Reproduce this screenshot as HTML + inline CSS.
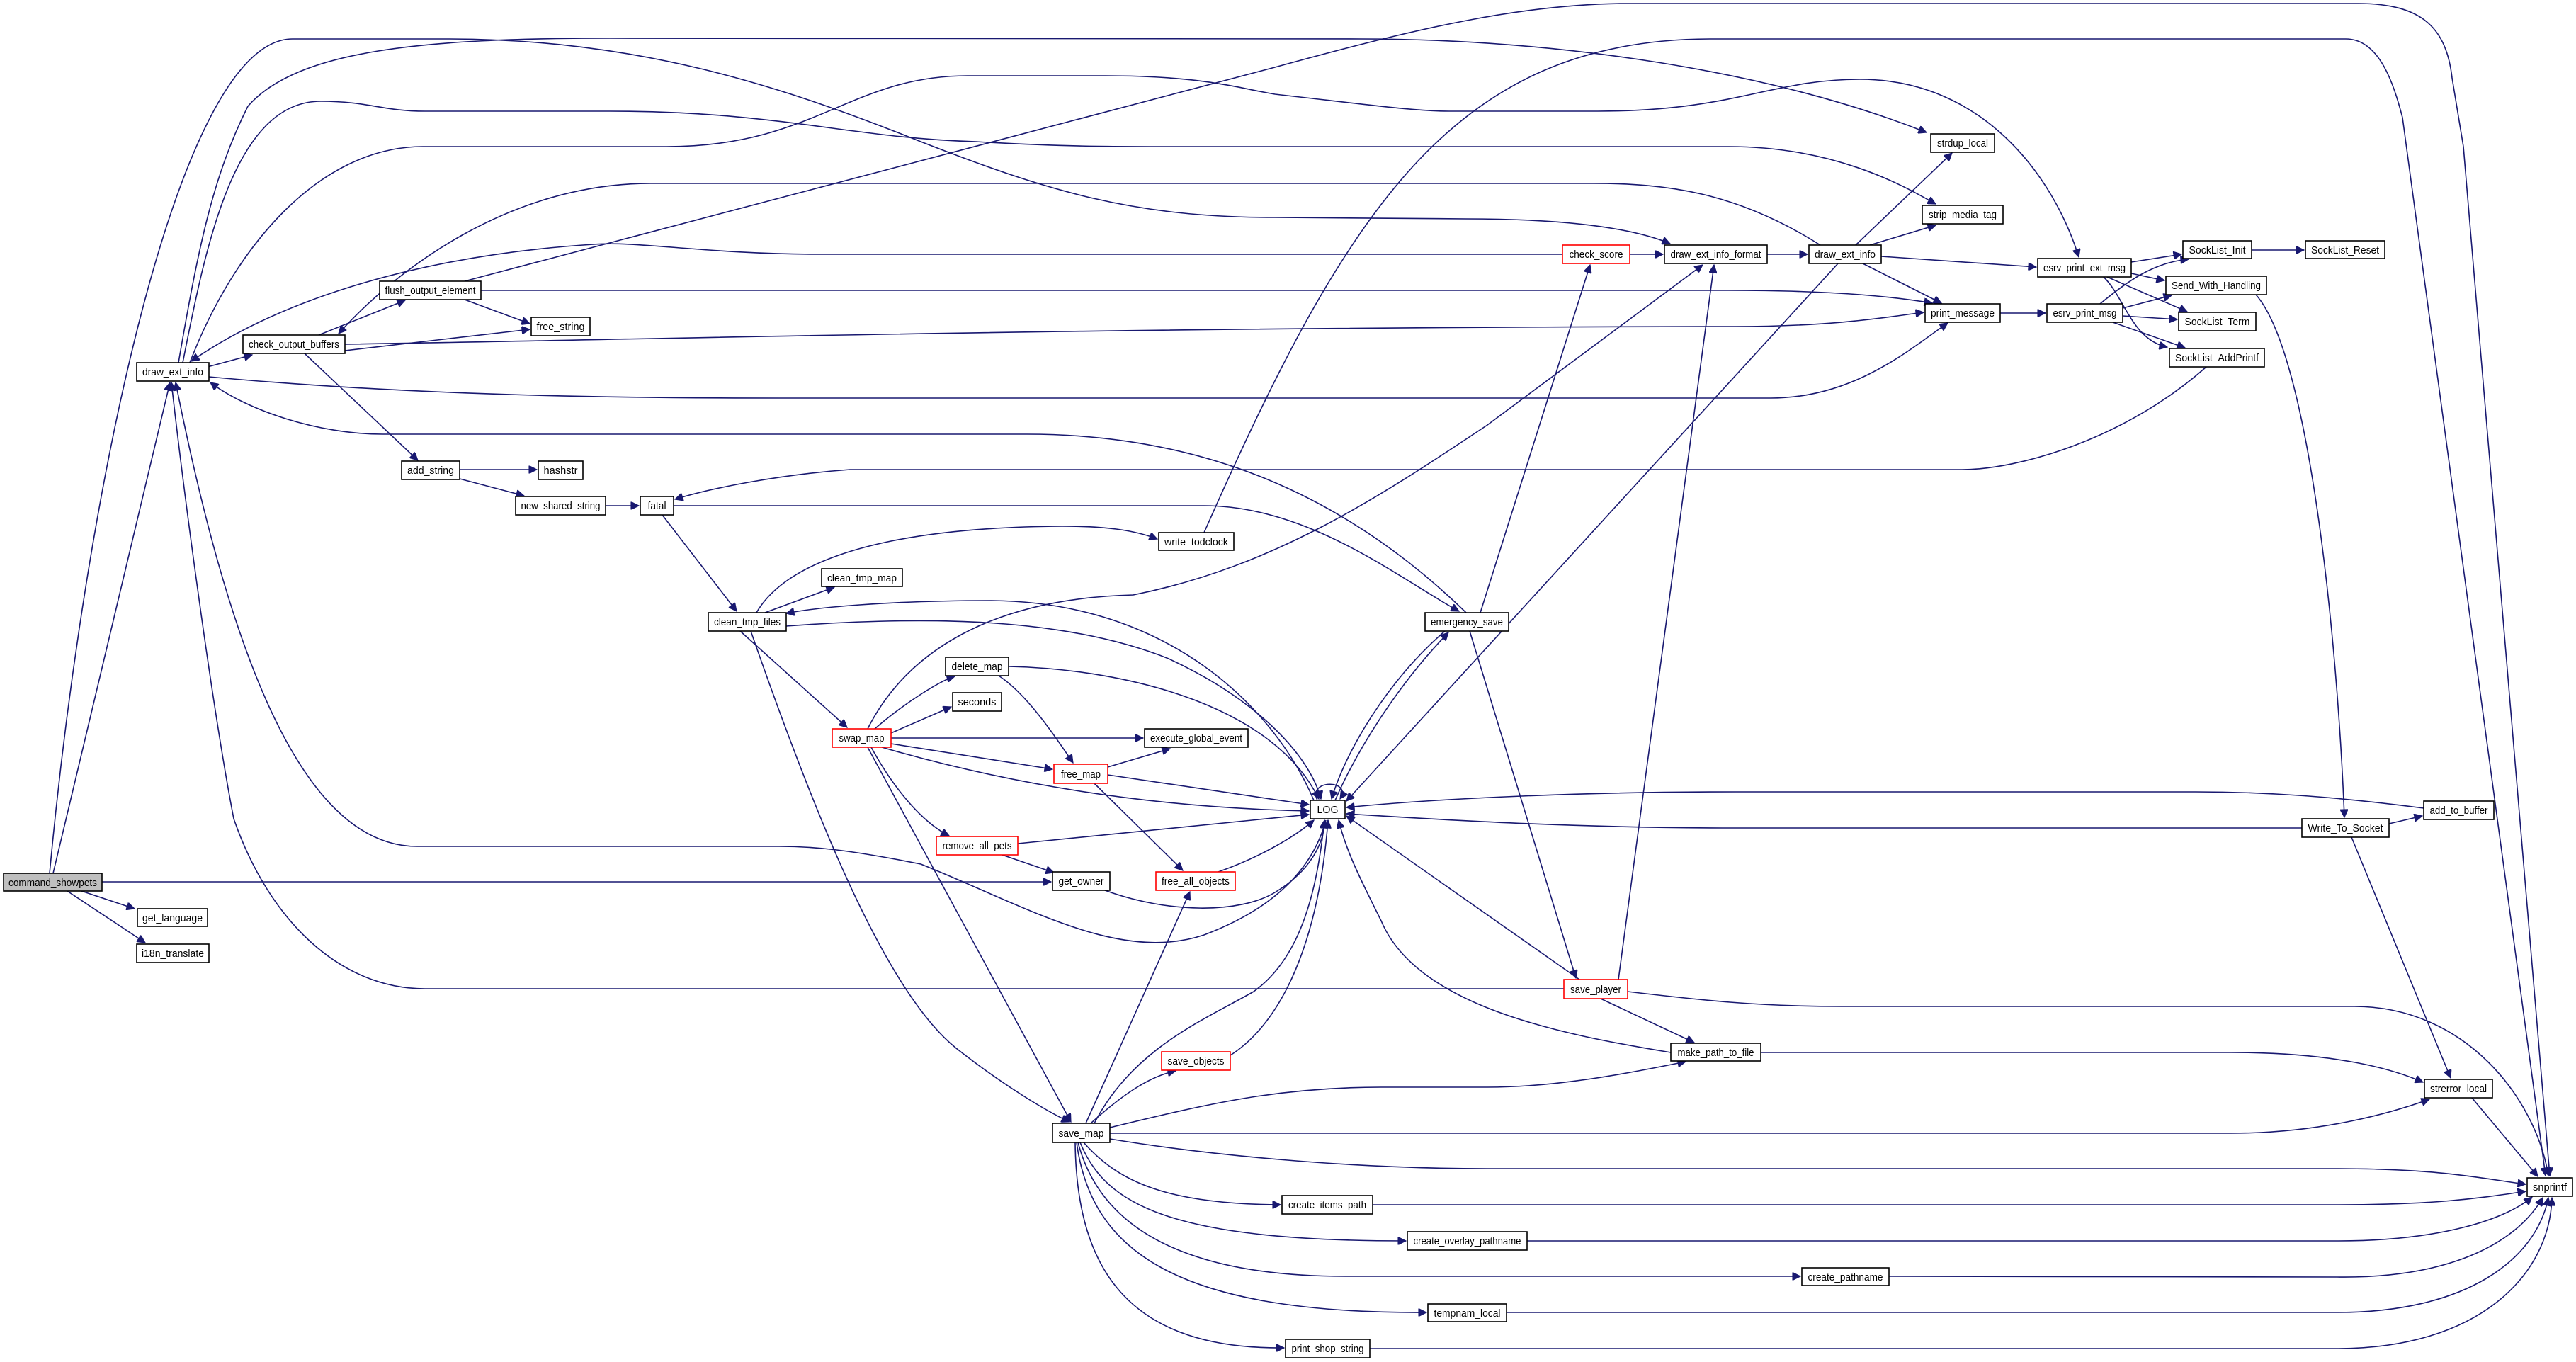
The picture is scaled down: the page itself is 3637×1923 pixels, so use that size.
<!DOCTYPE html>
<html><head><meta charset="utf-8"><style>
html,body{margin:0;padding:0;background:#fff;}
svg{display:block;}
text{font-family:"Liberation Sans",sans-serif;font-size:15px;fill:#000;}
.e{fill:none;stroke:#191970;stroke-width:1.6;marker-end:url(#a);}
.n{fill:#fff;stroke:#000;stroke-width:1.6;}
.r{fill:#fff;stroke:#ff0000;stroke-width:1.6;}
.g{fill:#bfbfbf;stroke:#000;stroke-width:1.6;}
</style></head><body>
<svg width="3637" height="1923" viewBox="0 0 3637 1923" xmlns="http://www.w3.org/2000/svg">
<defs><marker id="a" viewBox="0 0 10 10" refX="10" refY="5" markerWidth="16" markerHeight="11" markerUnits="userSpaceOnUse" orient="auto"><path d="M0,0 L10,5 L0,10 z" fill="#191970" stroke="#191970"/></marker></defs>
<g>
<path class="e" d="M75,1233 L240,540"/>
<path class="e" d="M115,1258 L190,1283"/>
<path class="e" d="M95,1258 L205,1331"/>
<path class="e" d="M144,1245 L1484,1245"/>
<path class="e" d="M70,1233 C120,700 250,55 413,55 L631,55 C900,55 1100,120 1300,200 C1480,270 1600,307 1800,307 L2070,309 C2200,309 2300,320 2358,344"/>
<path class="e" d="M293,518 L356,501"/>
<path class="e" d="M252,512 C280,350 300,250 350,150 C420,70 600,54 861,54 L1922,55 C2200,55 2500,100 2720,187"/>
<path class="e" d="M258,512 C290,350 330,143 453,143 C520,143 540,157 600,157 L861,157 C1100,157 1200,195 1378,200 C1500,207 1560,207 1665,207 L2441,207 C2600,207 2700,270 2733,288"/>
<path class="e" d="M268,512 C330,350 450,207 597,207 L941,207 C1150,207 1200,107 1366,107 L1561,107 C1700,107 1750,125 1800,133 C1950,150 2000,157 2046,157 L2256,157 C2450,157 2500,112 2626,112 C2800,112 2900,250 2935,363"/>
<path class="e" d="M2570,346 C2450,270 2350,259 2250,259 L918,259 C720,259 560,380 478,471"/>
<path class="e" d="M2206,359 L1160,359 C1000,359 900,340 838,345 C600,360 400,420 270,510"/>
<path class="e" d="M679,410 L2440,410 C2600,410 2680,420 2728,428"/>
<path class="e" d="M487,486 C900,480 1500,462 2450,461 C2600,461 2680,445 2716,441"/>
<path class="e" d="M295,532 C600,560 900,562 1100,562 L2500,562 C2620,562 2700,490 2750,456"/>
<path class="e" d="M2070,865 C1900,700 1700,613 1450,613 L540,613 C450,613 350,580 297,540"/>
<path class="e" d="M450,473 L572,424"/>
<path class="e" d="M487,495 L748,465"/>
<path class="e" d="M656,423 L748,457"/>
<path class="e" d="M430,499 L590,650"/>
<path class="e" d="M649,663 L758,663"/>
<path class="e" d="M649,676 L740,700"/>
<path class="e" d="M855,714 L902,714"/>
<path class="e" d="M3115,518 C3000,620 2850,663 2770,663 L1200,663 C1100,670 1000,690 953,705"/>
<path class="e" d="M951,714 L1700,714 C1850,714 1980,820 2060,863"/>
<path class="e" d="M935,727 L1040,863"/>
<path class="e" d="M1080,865 L1178,829"/>
<path class="e" d="M1068,865 C1100,810 1200,745 1500,743 C1560,743 1600,748 1634,761"/>
<path class="e" d="M1855,1130 C1800,1000 1650,850 1400,848 C1250,848 1150,858 1110,866"/>
<path class="e" d="M1110,884 C1300,870 1500,870 1650,930 C1780,990 1850,1070 1865,1128"/>
<path class="e" d="M1045,891 L1196,1027"/>
<path class="e" d="M1060,891 C1150,1150 1250,1400 1350,1480 C1420,1535 1480,1570 1510,1584"/>
<path class="e" d="M1225,1029 C1280,920 1400,845 1600,840 C1800,800 1950,700 2100,600 L2404,374"/>
<path class="e" d="M1235,1029 C1280,990 1330,960 1348,955"/>
<path class="e" d="M1258,1035 L1343,998"/>
<path class="e" d="M1258,1042 L1614,1042"/>
<path class="e" d="M1258,1050 L1486,1086"/>
<path class="e" d="M1245,1055 C1400,1100 1600,1140 1848,1145"/>
<path class="e" d="M1230,1055 C1260,1110 1300,1160 1340,1180"/>
<path class="e" d="M1225,1055 L1512,1584"/>
<path class="e" d="M1424,941 C1600,945 1800,1000 1862,1128"/>
<path class="e" d="M1410,954 C1450,980 1490,1040 1515,1077"/>
<path class="e" d="M1564,1083 L1652,1057"/>
<path class="e" d="M1564,1094 L1848,1136"/>
<path class="e" d="M1545,1106 L1670,1229"/>
<path class="e" d="M1437,1191 L1848,1150"/>
<path class="e" d="M1415,1207 L1488,1232"/>
<path class="e" d="M1560,1257 C1650,1290 1750,1290 1800,1260 C1850,1230 1870,1190 1870,1158"/>
<path class="e" d="M1720,1231 C1780,1210 1830,1180 1855,1158"/>
<path class="e" d="M1872,1158 C1850,1240 1780,1290 1700,1320 C1580,1360 1450,1280 1300,1220 C1200,1200 1150,1195 1100,1195 L589,1195 C420,1195 320,900 248,540"/>
<path class="e" d="M2208,1396 L600,1396 C480,1396 380,1300 330,1156 C300,1000 260,700 242,540"/>
<path class="e" d="M2230,1383 L1901,1152"/>
<path class="e" d="M2260,1410 L2392,1472"/>
<path class="e" d="M2298,1400 C2400,1412 2480,1421 2600,1421 L3324,1421 C3480,1421 3580,1550 3598,1660"/>
<path class="e" d="M2285,1383 L2420,374"/>
<path class="e" d="M2075,891 L2225,1381"/>
<path class="e" d="M2040,891 C1960,960 1900,1060 1880,1128"/>
<path class="e" d="M1885,1130 C1920,1050 1980,960 2045,893"/>
<path class="e" d="M2090,865 L2245,374"/>
<path class="e" d="M2495,359 L2552,359"/>
<path class="e" d="M2301,359 L2348,359"/>
<path class="e" d="M2595,372 L1901,1131"/>
<path class="e" d="M2620,346 L2756,216"/>
<path class="e" d="M2640,346 L2733,318"/>
<path class="e" d="M2656,362 L2875,377"/>
<path class="e" d="M2630,372 L2741,428"/>
<path class="e" d="M2824,442 L2888,442"/>
<path class="e" d="M3009,370 L3080,359"/>
<path class="e" d="M3009,386 L3056,396"/>
<path class="e" d="M2975,391 L3088,440"/>
<path class="e" d="M2970,391 C3000,420 3010,480 3060,490"/>
<path class="e" d="M2965,429 C3000,400 3040,370 3090,366"/>
<path class="e" d="M2997,435 L3066,417"/>
<path class="e" d="M2997,446 L3074,451"/>
<path class="e" d="M2983,455 L3085,491"/>
<path class="e" d="M3179,353 L3253,353"/>
<path class="e" d="M3185,416 C3260,500 3300,900 3310,1154"/>
<path class="e" d="M3373,1163 L3420,1152"/>
<path class="e" d="M3250,1169 L2450,1169 C2200,1169 2000,1155 1901,1149"/>
<path class="e" d="M3422,1141 C3300,1125 3200,1118 3100,1118 L2450,1118 C2200,1118 2000,1130 1901,1140"/>
<path class="e" d="M3320,1182 L3460,1522"/>
<path class="e" d="M1860,1130 C1845,1100 1910,1100 1892,1128"/>
<path class="e" d="M1533,1586 L1680,1259"/>
<path class="e" d="M1545,1586 C1600,1480 1700,1440 1770,1400 C1840,1350 1860,1250 1870,1158"/>
<path class="e" d="M1540,1586 C1580,1550 1620,1520 1660,1512"/>
<path class="e" d="M1737,1490 C1800,1450 1860,1350 1875,1158"/>
<path class="e" d="M1567,1592 C1700,1560 1800,1535 1950,1535 L2100,1535 C2200,1535 2300,1515 2380,1499"/>
<path class="e" d="M1567,1600 L3150,1600 C3280,1600 3380,1570 3430,1552"/>
<path class="e" d="M1567,1608 C1700,1630 1900,1650 2100,1650 L3300,1650 C3450,1650 3510,1665 3566,1672"/>
<path class="e" d="M1938,1701 L3300,1701 C3450,1701 3510,1690 3566,1682"/>
<path class="e" d="M1530,1613 C1580,1670 1650,1700 1808,1701"/>
<path class="e" d="M1525,1613 C1560,1700 1650,1752 1985,1752"/>
<path class="e" d="M2156,1752 L3300,1752 C3450,1752 3540,1720 3575,1690"/>
<path class="e" d="M1522,1613 C1550,1720 1650,1802 1900,1802 L2542,1802"/>
<path class="e" d="M2667,1802 L3300,1803 C3450,1805 3550,1760 3590,1691"/>
<path class="e" d="M1520,1613 C1540,1760 1650,1855 2014,1853"/>
<path class="e" d="M2127,1853 L3300,1853 C3480,1853 3580,1780 3598,1691"/>
<path class="e" d="M1518,1613 C1520,1800 1600,1905 1813,1903"/>
<path class="e" d="M1934,1904 L3300,1904 C3500,1904 3600,1800 3603,1691"/>
<path class="e" d="M2359,1486 C2200,1460 2000,1420 1950,1300 C1920,1240 1900,1200 1890,1158"/>
<path class="e" d="M2486,1486 L3150,1486 C3300,1486 3380,1510 3421,1528"/>
<path class="e" d="M3490,1550 L3583,1661"/>
<path class="e" d="M656,397 L1800,95 C2000,40 2150,5 2300,5 L3330,5 C3420,5 3454,40 3462,110 L3478,207 L3600,1660"/>
<path class="e" d="M1700,752 C1900,300 2050,55 2416,55 L3312,55 C3360,55 3380,120 3392,166 L3594,1660"/>
</g>
<g>
<rect class="g" x="5" y="1233" width="139" height="25"/><text x="74.5" y="1251" text-anchor="middle" textLength="125" lengthAdjust="spacingAndGlyphs">command_showpets</text>
<rect class="n" x="194" y="1283" width="99" height="25"/><text x="243.5" y="1301" text-anchor="middle" textLength="85" lengthAdjust="spacingAndGlyphs">get_language</text>
<rect class="n" x="193" y="1333" width="102" height="26"/><text x="244" y="1351" text-anchor="middle" textLength="88" lengthAdjust="spacingAndGlyphs">i18n_translate</text>
<rect class="n" x="193" y="512" width="102" height="26"/><text x="244" y="530" text-anchor="middle" textLength="86" lengthAdjust="spacingAndGlyphs">draw_ext_info</text>
<rect class="n" x="343" y="473" width="144" height="26"/><text x="415" y="491" text-anchor="middle" textLength="128" lengthAdjust="spacingAndGlyphs">check_output_buffers</text>
<rect class="n" x="536" y="397" width="143" height="26"/><text x="607.5" y="415" text-anchor="middle" textLength="128" lengthAdjust="spacingAndGlyphs">flush_output_element</text>
<rect class="n" x="750" y="448" width="83" height="26"/><text x="791.5" y="466" text-anchor="middle" textLength="68" lengthAdjust="spacingAndGlyphs">free_string</text>
<rect class="n" x="567" y="651" width="82" height="26"/><text x="608" y="669" text-anchor="middle" textLength="66" lengthAdjust="spacingAndGlyphs">add_string</text>
<rect class="n" x="760" y="651" width="63" height="26"/><text x="791.5" y="669" text-anchor="middle" textLength="48" lengthAdjust="spacingAndGlyphs">hashstr</text>
<rect class="n" x="728" y="701" width="127" height="26"/><text x="791.5" y="719" text-anchor="middle" textLength="112" lengthAdjust="spacingAndGlyphs">new_shared_string</text>
<rect class="n" x="904" y="701" width="47" height="26"/><text x="927.5" y="719" text-anchor="middle" textLength="26" lengthAdjust="spacingAndGlyphs">fatal</text>
<rect class="n" x="1000" y="865" width="110" height="26"/><text x="1055" y="883" text-anchor="middle" textLength="94" lengthAdjust="spacingAndGlyphs">clean_tmp_files</text>
<rect class="n" x="1636" y="752" width="106" height="25"/><text x="1689" y="770" text-anchor="middle" textLength="90" lengthAdjust="spacingAndGlyphs">write_todclock</text>
<rect class="n" x="1160" y="803" width="114" height="25"/><text x="1217" y="821" text-anchor="middle" textLength="98" lengthAdjust="spacingAndGlyphs">clean_tmp_map</text>
<rect class="n" x="2012" y="865" width="118" height="26"/><text x="2071" y="883" text-anchor="middle" textLength="102" lengthAdjust="spacingAndGlyphs">emergency_save</text>
<rect class="n" x="1335" y="928" width="89" height="26"/><text x="1379.5" y="946" text-anchor="middle" textLength="72" lengthAdjust="spacingAndGlyphs">delete_map</text>
<rect class="n" x="1345" y="978" width="69" height="26"/><text x="1379.5" y="996" text-anchor="middle" textLength="54" lengthAdjust="spacingAndGlyphs">seconds</text>
<rect class="r" x="1175" y="1029" width="83" height="26"/><text x="1216.5" y="1047" text-anchor="middle" textLength="64" lengthAdjust="spacingAndGlyphs">swap_map</text>
<rect class="n" x="1616" y="1029" width="146" height="26"/><text x="1689" y="1047" text-anchor="middle" textLength="130" lengthAdjust="spacingAndGlyphs">execute_global_event</text>
<rect class="r" x="1488" y="1079" width="76" height="27"/><text x="1526" y="1098" text-anchor="middle" textLength="56" lengthAdjust="spacingAndGlyphs">free_map</text>
<rect class="n" x="1850" y="1130" width="49" height="26"/><text x="1874.5" y="1148" text-anchor="middle" textLength="30" lengthAdjust="spacingAndGlyphs">LOG</text>
<rect class="r" x="1322" y="1181" width="115" height="26"/><text x="1379.5" y="1199" text-anchor="middle" textLength="98" lengthAdjust="spacingAndGlyphs">remove_all_pets</text>
<rect class="n" x="1486" y="1231" width="81" height="26"/><text x="1526.5" y="1249" text-anchor="middle" textLength="64" lengthAdjust="spacingAndGlyphs">get_owner</text>
<rect class="r" x="1632" y="1231" width="112" height="26"/><text x="1688" y="1249" text-anchor="middle" textLength="96" lengthAdjust="spacingAndGlyphs">free_all_objects</text>
<rect class="r" x="2208" y="1383" width="90" height="27"/><text x="2253" y="1402" text-anchor="middle" textLength="72" lengthAdjust="spacingAndGlyphs">save_player</text>
<rect class="n" x="2359" y="1473" width="127" height="25"/><text x="2422.5" y="1491" text-anchor="middle" textLength="108" lengthAdjust="spacingAndGlyphs">make_path_to_file</text>
<rect class="r" x="1640" y="1485" width="97" height="26"/><text x="1688.5" y="1503" text-anchor="middle" textLength="80" lengthAdjust="spacingAndGlyphs">save_objects</text>
<rect class="n" x="1486" y="1586" width="81" height="27"/><text x="1526.5" y="1605" text-anchor="middle" textLength="64" lengthAdjust="spacingAndGlyphs">save_map</text>
<rect class="n" x="1810" y="1688" width="128" height="26"/><text x="1874" y="1706" text-anchor="middle" textLength="110" lengthAdjust="spacingAndGlyphs">create_items_path</text>
<rect class="n" x="1987" y="1739" width="169" height="26"/><text x="2071.5" y="1757" text-anchor="middle" textLength="152" lengthAdjust="spacingAndGlyphs">create_overlay_pathname</text>
<rect class="n" x="2544" y="1790" width="123" height="25"/><text x="2605.5" y="1808" text-anchor="middle" textLength="106" lengthAdjust="spacingAndGlyphs">create_pathname</text>
<rect class="n" x="2016" y="1841" width="111" height="25"/><text x="2071.5" y="1859" text-anchor="middle" textLength="94" lengthAdjust="spacingAndGlyphs">tempnam_local</text>
<rect class="n" x="1815" y="1891" width="119" height="26"/><text x="1874.5" y="1909" text-anchor="middle" textLength="102" lengthAdjust="spacingAndGlyphs">print_shop_string</text>
<rect class="n" x="2726" y="189" width="90" height="26"/><text x="2771" y="207" text-anchor="middle" textLength="72" lengthAdjust="spacingAndGlyphs">strdup_local</text>
<rect class="n" x="2714" y="290" width="114" height="26"/><text x="2771" y="308" text-anchor="middle" textLength="96" lengthAdjust="spacingAndGlyphs">strip_media_tag</text>
<rect class="r" x="2206" y="346" width="95" height="26"/><text x="2253.5" y="364" text-anchor="middle" textLength="76" lengthAdjust="spacingAndGlyphs">check_score</text>
<rect class="n" x="2350" y="346" width="145" height="26"/><text x="2422.5" y="364" text-anchor="middle" textLength="128" lengthAdjust="spacingAndGlyphs">draw_ext_info_format</text>
<rect class="n" x="2554" y="346" width="102" height="26"/><text x="2605" y="364" text-anchor="middle" textLength="86" lengthAdjust="spacingAndGlyphs">draw_ext_info</text>
<rect class="n" x="2877" y="365" width="132" height="26"/><text x="2943" y="383" text-anchor="middle" textLength="116" lengthAdjust="spacingAndGlyphs">esrv_print_ext_msg</text>
<rect class="n" x="3082" y="340" width="97" height="25"/><text x="3130.5" y="358" text-anchor="middle" textLength="80" lengthAdjust="spacingAndGlyphs">SockList_Init</text>
<rect class="n" x="3255" y="340" width="112" height="25"/><text x="3311" y="358" text-anchor="middle" textLength="96" lengthAdjust="spacingAndGlyphs">SockList_Reset</text>
<rect class="n" x="3058" y="390" width="142" height="26"/><text x="3129" y="408" text-anchor="middle" textLength="126" lengthAdjust="spacingAndGlyphs">Send_With_Handling</text>
<rect class="n" x="2718" y="429" width="106" height="26"/><text x="2771" y="447" text-anchor="middle" textLength="90" lengthAdjust="spacingAndGlyphs">print_message</text>
<rect class="n" x="2890" y="429" width="107" height="26"/><text x="2943.5" y="447" text-anchor="middle" textLength="90" lengthAdjust="spacingAndGlyphs">esrv_print_msg</text>
<rect class="n" x="3076" y="441" width="109" height="26"/><text x="3130.5" y="459" text-anchor="middle" textLength="92" lengthAdjust="spacingAndGlyphs">SockList_Term</text>
<rect class="n" x="3063" y="492" width="134" height="26"/><text x="3130" y="510" text-anchor="middle" textLength="118" lengthAdjust="spacingAndGlyphs">SockList_AddPrintf</text>
<rect class="n" x="3422" y="1131" width="99" height="26"/><text x="3471.5" y="1149" text-anchor="middle" textLength="82" lengthAdjust="spacingAndGlyphs">add_to_buffer</text>
<rect class="n" x="3250" y="1156" width="123" height="26"/><text x="3311.5" y="1174" text-anchor="middle" textLength="106" lengthAdjust="spacingAndGlyphs">Write_To_Socket</text>
<rect class="n" x="3423" y="1524" width="96" height="26"/><text x="3471" y="1542" text-anchor="middle" textLength="80" lengthAdjust="spacingAndGlyphs">strerror_local</text>
<rect class="n" x="3568" y="1663" width="64" height="26"/><text x="3600" y="1681" text-anchor="middle" textLength="48" lengthAdjust="spacingAndGlyphs">snprintf</text>
</g>
</svg>
</body></html>
